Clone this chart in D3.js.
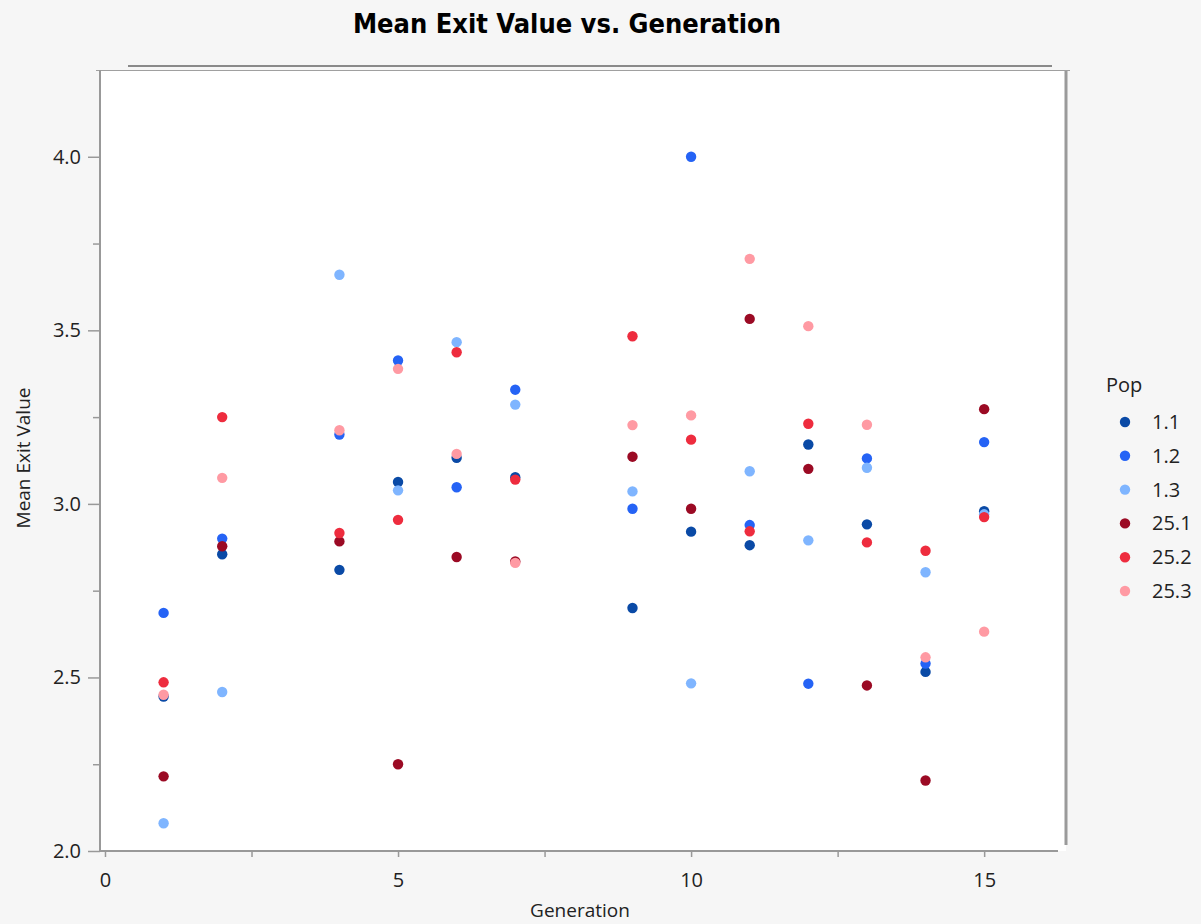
<!DOCTYPE html>
<html>
<head>
<meta charset="utf-8">
<script src="https://cdn.jsdelivr.net/npm/d3@7"></script>
<style>
  html, body { margin: 0; padding: 0; background: #f6f6f6; }
  svg { display: block; }
  text { font-family: "Open Sans", "DejaVu Sans", sans-serif; fill: #222; }
</style>
</head>
<body>
<svg id="chart" width="1201" height="924"></svg>
<script>
// --- DATA ---
const generations = [1, 2, 4, 5, 6, 7, 9, 10, 11, 12, 13, 14, 15];
const pops = ["1.1", "1.2", "1.3", "25.1", "25.2", "25.3"];
const pop11 = [2.445, 2.855, 2.810, 3.063, 3.133, 3.077, 2.700, 2.920, 2.881, 3.171, 2.941, 2.516, 2.979];
const pop12 = [2.686, 2.900, 3.200, 3.413, 3.048, 3.329, 2.986, 4.000, 2.939, 2.482, 3.131, 2.540, 3.178];
const pop13 = [2.080, 2.458, 3.660, 3.039, 3.466, 3.286, 3.036, 2.483, 3.094, 2.895, 3.104, 2.803, 2.970];
const pop251 = [2.215, 2.878, 2.892, 2.250, 2.847, 2.834, 3.136, 2.986, 3.533, 3.101, 2.477, 2.203, 3.273];
const pop252 = [2.486, 3.250, 2.916, 2.954, 3.437, 3.070, 3.483, 3.185, 2.921, 3.231, 2.889, 2.865, 2.962];
const pop253 = [2.450, 3.075, 3.212, 3.389, 3.144, 2.830, 3.227, 3.255, 3.706, 3.512, 3.228, 2.558, 2.632];
const xTicks = [0, 5, 10, 15];
const yTicks = [2.0, 2.5, 3.0, 3.5, 4.0];

const popColors = ["#0a4aa6", "#2563f5", "#7fb5ff", "#9b0a24", "#ee2c3e", "#ff9aa3"];
const series = [pop11, pop12, pop13, pop251, pop252, pop253];

const points = [];
series.forEach((vals, i) => {
    vals.forEach((v, j) => points.push({ pop: pops[i], gen: generations[j], value: v }));
});

// --- SETUP ---
const svg = d3.select("#chart");
const plotLeft = 100, plotRight = 1058, plotTop = 70, plotBottom = 851;
const x = d3.scaleLinear().domain([-0.085, 16.26]).range([plotLeft, plotRight]);
const y = d3.scaleLinear().domain([2.0, 4.25]).range([plotBottom, plotTop]);
const color = d3.scaleOrdinal(pops, popColors);
const isMajorY = d => yTicks.some(t => Math.abs(t - d) < 1e-6);

// plot background + frame
svg.append("rect").attr("x", plotLeft).attr("y", plotTop).attr("width", 1066 - plotLeft).attr("height", plotBottom - plotTop)
    .style("fill", "#fff");
svg.append("line").attr("x1", 128).attr("x2", 1052).attr("y1", 66).attr("y2", 66)
    .style("stroke", "#8a8a8a").style("stroke-width", 2);
svg.append("line").attr("x1", 96).attr("x2", 1070).attr("y1", 70.5).attr("y2", 70.5)
    .style("stroke", "#a0a0a0").style("stroke-width", 1);
svg.append("line").attr("x1", 1066).attr("x2", 1066).attr("y1", 71).attr("y2", 845)
    .style("stroke", "#9a9a9a").style("stroke-width", 3);

// --- AXES ---
const yAxis = d3.axisLeft(y).tickValues(d3.range(2.0, 4.01, 0.25)).tickSize(0).tickPadding(19)
    .tickFormat(d => isMajorY(d) ? d3.format(".1f")(d) : "");
const gy = svg.append("g").attr("transform", `translate(${plotLeft},0)`).call(yAxis);
gy.select(".domain").attr("d", `M0,${plotTop}V${plotBottom}`);
gy.selectAll(".tick line").attr("x2", d => isMajorY(d) ? -12 : -7);

const xAxis = d3.axisBottom(x).tickValues(d3.range(0, 15.1, 2.5)).tickSize(6).tickPadding(16)
    .tickFormat(d => xTicks.includes(d) ? d : "");
const gx = svg.append("g").attr("transform", `translate(0,${plotBottom})`).call(xAxis);
gx.select(".domain").attr("d", `M${plotLeft},0H${plotRight}`);

[gx, gy].forEach(g => {
    g.select(".domain").style("stroke", "#999").style("stroke-width", 2);
    g.selectAll(".tick line").style("stroke", "#999").style("stroke-width", 1.5);
    g.selectAll(".tick text").style("font-size", "20px").style("font-family", "'Open Sans', sans-serif").style("fill", "#222");
});

// --- POINTS ---
svg.append("g").selectAll("circle").data(points).join("circle")
    .attr("cx", d => x(d.gen)).attr("cy", d => y(d.value)).attr("r", 5.2)
    .style("fill", d => color(d.pop));

// --- TITLES ---
svg.append("text").attr("x", 567).attr("y", 33).attr("text-anchor", "middle")
    .style("font-family", "'DejaVu Sans Condensed', 'DejaVu Sans', sans-serif").style("font-stretch", "condensed")
    .style("font-weight", "bold").style("font-size", "27px").style("fill", "#000")
    .text("Mean Exit Value vs. Generation");
svg.append("text").attr("x", 580).attr("y", 917).attr("text-anchor", "middle")
    .style("font-size", "19px").text("Generation");
svg.append("text").attr("transform", "translate(30,458) rotate(-90)").attr("text-anchor", "middle")
    .style("font-size", "19px").text("Mean Exit Value");

// --- LEGEND ---
const legend = svg.append("g");
legend.append("text").attr("x", 1106).attr("y", 392).style("font-size", "20px").text("Pop");
const items = legend.selectAll(".legend-item").data(pops).join("g").attr("class", "legend-item")
    .attr("transform", (d, i) => `translate(1125,${422 + i * 33.8})`);
items.append("circle").attr("r", 5.2).style("fill", d => color(d));
items.append("text").attr("x", 27).attr("y", 7).style("font-size", "20px").text(d => d);
</script>
</body>
</html>
